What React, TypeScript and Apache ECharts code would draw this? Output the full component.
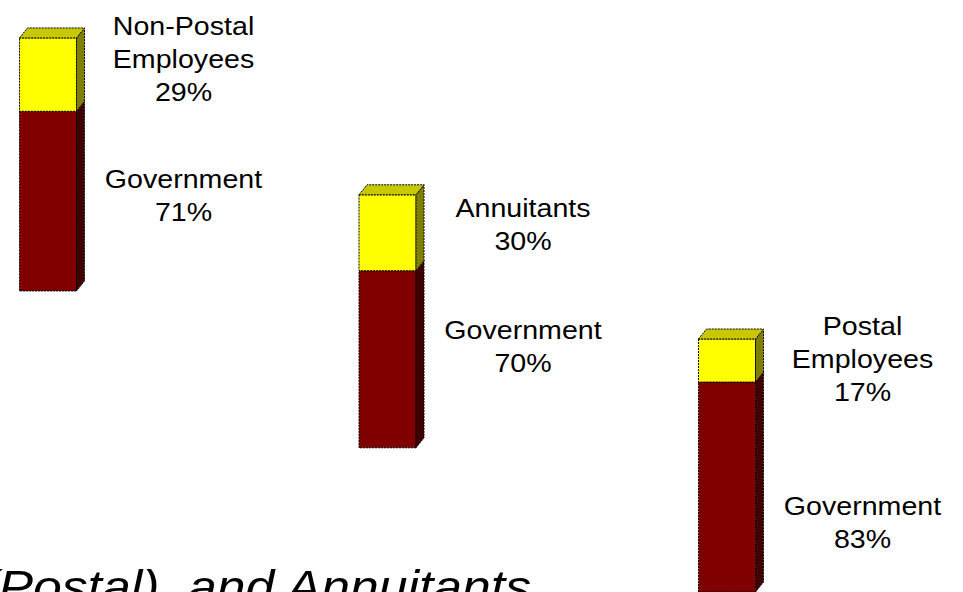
import { useEffect, useRef } from "react";
import * as echarts from "echarts";

// ---- data ----
const categories = ["Non-Postal Employees", "Annuitants", "Postal Employees"];
const contributorLabels = ["Non-Postal\nEmployees", "Annuitants", "Postal\nEmployees"];
const governmentShare = [71, 70, 83];
const contributorShare = [29, 30, 17];
const stepOffsets = [119, 57, 0];
const governmentLabel = "Government";
const titleText = "(Postal), and Annuitants";

// ---- layout / style ----
const BAR_W = 57;
const DEPTH_X = 8;
const DEPTH_Y = -10;
const LABEL_DX = 135.5;
const TOP_LABEL_NUDGE = [-16, -8, -2];
const GOV_LABEL_NUDGE = [-6, -13, 35];
const FONT = '26px "Liberation Sans", Arial, sans-serif';

const RED = "#800000";
const RED_SIDE = "#400000";
const YEL = "#FFFF00";
const YEL_SIDE = "#808000";
const YEL_TOP = "#C8C800";

const edge = {
  stroke: "#000",
  lineWidth: 1,
  lineDash: [2, 1],
};

function renderItem(params: any, api: any) {
  const idx = api.value(0);
  const base = api.value(1);
  const gov = api.value(2);
  const oth = api.value(3);
  const [cx, yBase] = api.coord([idx, base]);
  const yMid = api.coord([idx, base + gov])[1];
  const yTop = api.coord([idx, base + gov + oth])[1];
  const x0 = cx - BAR_W / 2;
  const x1 = cx + BAR_W / 2;
  const i = params.dataIndex;

  const side = (ya: number, yb: number, fill: string) => ({
    type: "polygon",
    shape: {
      points: [
        [x1, ya],
        [x1 + DEPTH_X, ya + DEPTH_Y],
        [x1 + DEPTH_X, yb + DEPTH_Y],
        [x1, yb],
      ],
    },
    style: { fill, ...edge },
  });
  const front = (ya: number, yb: number, fill: string) => ({
    type: "rect",
    shape: { x: x0, y: ya, width: BAR_W, height: yb - ya },
    style: { fill, ...edge },
  });

  const labelX = cx + LABEL_DX;
  const children: any[] = [
    front(yMid, yBase, RED),
    side(yMid, yBase, RED_SIDE),
    front(yTop, yMid, YEL),
    side(yTop, yMid, YEL_SIDE),
    {
      type: "polygon",
      shape: {
        points: [
          [x0, yTop],
          [x0 + DEPTH_X, yTop + DEPTH_Y],
          [x1 + DEPTH_X, yTop + DEPTH_Y],
          [x1, yTop],
        ],
      },
      style: { fill: YEL_TOP, ...edge },
    },
    {
      type: "text",
      x: labelX,
      y: (yTop + yMid) / 2 + TOP_LABEL_NUDGE[i],
      scaleX: 1.1,
      style: {
        text: contributorLabels[i] + "\n" + oth + "%",
        font: FONT,
        fill: "#000",
        align: "center",
        verticalAlign: "middle",
        lineHeight: 33,
      },
    },
    {
      type: "text",
      x: labelX,
      y: (yMid + yBase) / 2 + GOV_LABEL_NUDGE[i],
      scaleX: 1.1,
      style: {
        text: governmentLabel + "\n" + gov + "%",
        font: FONT,
        fill: "#000",
        align: "center",
        verticalAlign: "middle",
        lineHeight: 33,
      },
    },
  ];
  return { type: "group", children };
}

export default function App() {
  const ref = useRef<HTMLDivElement>(null);
  useEffect(() => {
    if (!ref.current) return;
    const chart = echarts.init(ref.current, null, { renderer: "svg" });
    const data = categories.map((_, k) => [
      k,
      stepOffsets[k],
      governmentShare[k],
      contributorShare[k],
    ]);
    chart.setOption({
      animation: false,
      backgroundColor: "#fff",
      grid: { left: 0, width: 963, top: 0, height: 596 },
      xAxis: { type: "value", min: -0.1414, max: 2.6951, show: false },
      yAxis: { type: "value", min: 0, max: 234, show: false },
      series: [
        {
          type: "custom",
          renderItem,
          data,
          clip: false,
          encode: { x: 0, y: [1, 2, 3] },
        },
      ],
      graphic: [
        {
          type: "text",
          x: 531,
          y: 586,
          scaleX: 1.1,
          style: {
            text: titleText,
            font: 'italic 47px "Liberation Sans", Arial, sans-serif',
            fill: "#000",
            align: "right",
            verticalAlign: "middle",
          },
        },
      ],
    });
    return () => chart.dispose();
  }, []);
  return (
    <div
      ref={ref}
      style={{ width: 963, height: 592, position: "fixed", left: 0, top: 0 }}
    />
  );
}
